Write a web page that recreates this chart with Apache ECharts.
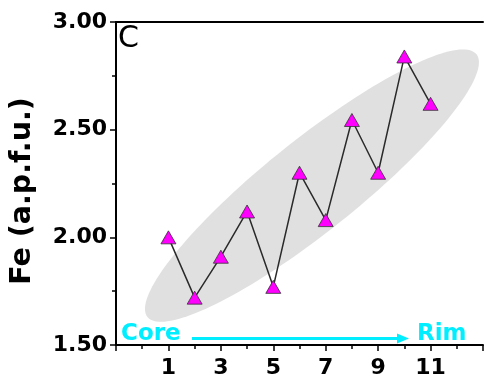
<!DOCTYPE html>
<html>
<head>
<meta charset="utf-8">
<script src="https://cdn.jsdelivr.net/npm/echarts@6/dist/echarts.min.js"></script>
<style>
html,body{margin:0;padding:0;background:#fff;}
#chart{width:486px;height:379px;}
</style>
</head>
<body>
<div id="chart"></div>
<script>
// Analysis points from core (1) to rim (11)
const pointIndex = [1, 2, 3, 4, 5, 6, 7, 8, 9, 10, 11];
const feValues = [2.00, 1.72, 1.91, 2.12, 1.77, 2.30, 2.08, 2.545, 2.30, 2.84, 2.62];
// Trend ellipse: two ends of its long axis in data coordinates [x1, y1, x2, y2]
const trendEllipse = [[0.2, 1.63, 12.75, 2.85]];
const yTickLabels = ['1.50', '2.00', '2.50', '3.00'];
const xTickLabels = ['1', '3', '5', '7', '9', '11'];

const FONT = '"DejaVu Sans", sans-serif';
const chart = echarts.init(document.getElementById('chart'), null, {renderer: 'canvas'});

const seriesData = pointIndex.map((x, i) => [x, feValues[i]]);

chart.setOption({
  animation: false,
  backgroundColor: '#ffffff',
  grid: {left: 112, right: 0, top: 22, bottom: 34, containLabel: false},
  xAxis: [{
    type: 'value', min: -1, max: 13, interval: 2,
    axisLine: {show: true, onZero: false, lineStyle: {color: '#000', width: 2}},
    axisTick: {show: true, inside: false, length: 6, lineStyle: {color: '#000', width: 1.5}},
    minorTick: {show: true, splitNumber: 2, length: 4, lineStyle: {color: '#000', width: 1.5}},
    splitLine: {show: false},
    axisLabel: {
      margin: 12, color: '#000', fontFamily: FONT, fontWeight: 'bold', fontSize: 22,
      formatter: v => (xTickLabels.indexOf(String(v)) >= 0 ? String(v) : '')
    }
  }, {
    type: 'value', position: 'top', min: -1, max: 13,
    axisLine: {show: true, onZero: false, lineStyle: {color: '#000', width: 2}},
    axisTick: {show: false}, axisLabel: {show: false}, splitLine: {show: false}
  }],
  yAxis: {
    type: 'value', min: 1.5, max: 3.0, interval: 0.5,
    name: 'Fe (a.p.f.u.)', nameLocation: 'middle', nameRotate: 90, nameGap: 79,
    nameTextStyle: {color: '#000', fontFamily: FONT, fontWeight: 'bold', fontSize: 28.5, padding: [0, 15, 0, 0]},
    axisLine: {show: true, onZero: false, lineStyle: {color: '#000', width: 2}},
    axisTick: {show: true, inside: false, length: 6, lineStyle: {color: '#000', width: 1.5}},
    minorTick: {show: true, splitNumber: 2, length: 4, lineStyle: {color: '#000', width: 1.5}},
    splitLine: {show: false},
    axisLabel: {
      margin: 9, color: '#000', fontFamily: FONT, fontWeight: 'bold', fontSize: 22,
      formatter: v => {
        const s = v.toFixed(2);
        return yTickLabels.indexOf(s) >= 0 ? s : '';
      }
    }
  },
  series: [{
    type: 'custom',
    silent: true,
    z: 1,
    clip: false,
    encode: {x: [0, 2], y: [1, 3]},
    data: trendEllipse,
    renderItem: function (params, api) {
      const p1 = api.coord([api.value(0), api.value(1)]);
      const p2 = api.coord([api.value(2), api.value(3)]);
      const cx = (p1[0] + p2[0]) / 2, cy = (p1[1] + p2[1]) / 2;
      const dx = p2[0] - p1[0], dy = p2[1] - p1[1];
      const a = Math.sqrt(dx * dx + dy * dy) / 2;
      const b = 46;
      const ang = Math.atan2(dy, dx);
      const ca = Math.cos(ang), sa = Math.sin(ang);
      const pts = [];
      for (let k = 0; k < 160; k++) {
        const t = k / 160 * Math.PI * 2;
        const ex = a * Math.cos(t), ey = b * Math.sin(t);
        pts.push([cx + ex * ca - ey * sa, cy + ex * sa + ey * ca]);
      }
      return {type: 'polygon', shape: {points: pts}, style: {fill: '#e0e0e0'}};
    }
  }, {
    type: 'line',
    z: 3,
    data: seriesData,
    symbol: 'triangle',
    symbolSize: [15, 13],
    lineStyle: {color: '#2a2a2a', width: 1.5},
    itemStyle: {color: '#ff00ff', borderColor: '#333', borderWidth: 0.8},
    emphasis: {disabled: true}
  }],
  graphic: [
    {type: 'text', x: 118, y: 39, z: 10,
     style: {text: 'C', font: 'normal 30px ' + FONT, fill: '#000', align: 'left', verticalAlign: 'middle'}},
    {type: 'text', x: 121, y: 334, z: 10,
     style: {text: 'Core', font: 'bold 23px ' + FONT, fill: '#00eeff', align: 'left', verticalAlign: 'middle'}},
    {type: 'text', x: 417, y: 334, z: 10,
     style: {text: 'Rim', font: 'bold 23px ' + FONT, fill: '#00eeff', align: 'left', verticalAlign: 'middle'}},
    {type: 'line', z: 10, shape: {x1: 192, y1: 338.5, x2: 400, y2: 338.5},
     style: {stroke: '#00eeff', lineWidth: 3}},
    {type: 'polygon', z: 10, shape: {points: [[397, 333.5], [409, 338.5], [397, 343.5]]},
     style: {fill: '#00eeff'}}
  ]
});
</script>
</body>
</html>
